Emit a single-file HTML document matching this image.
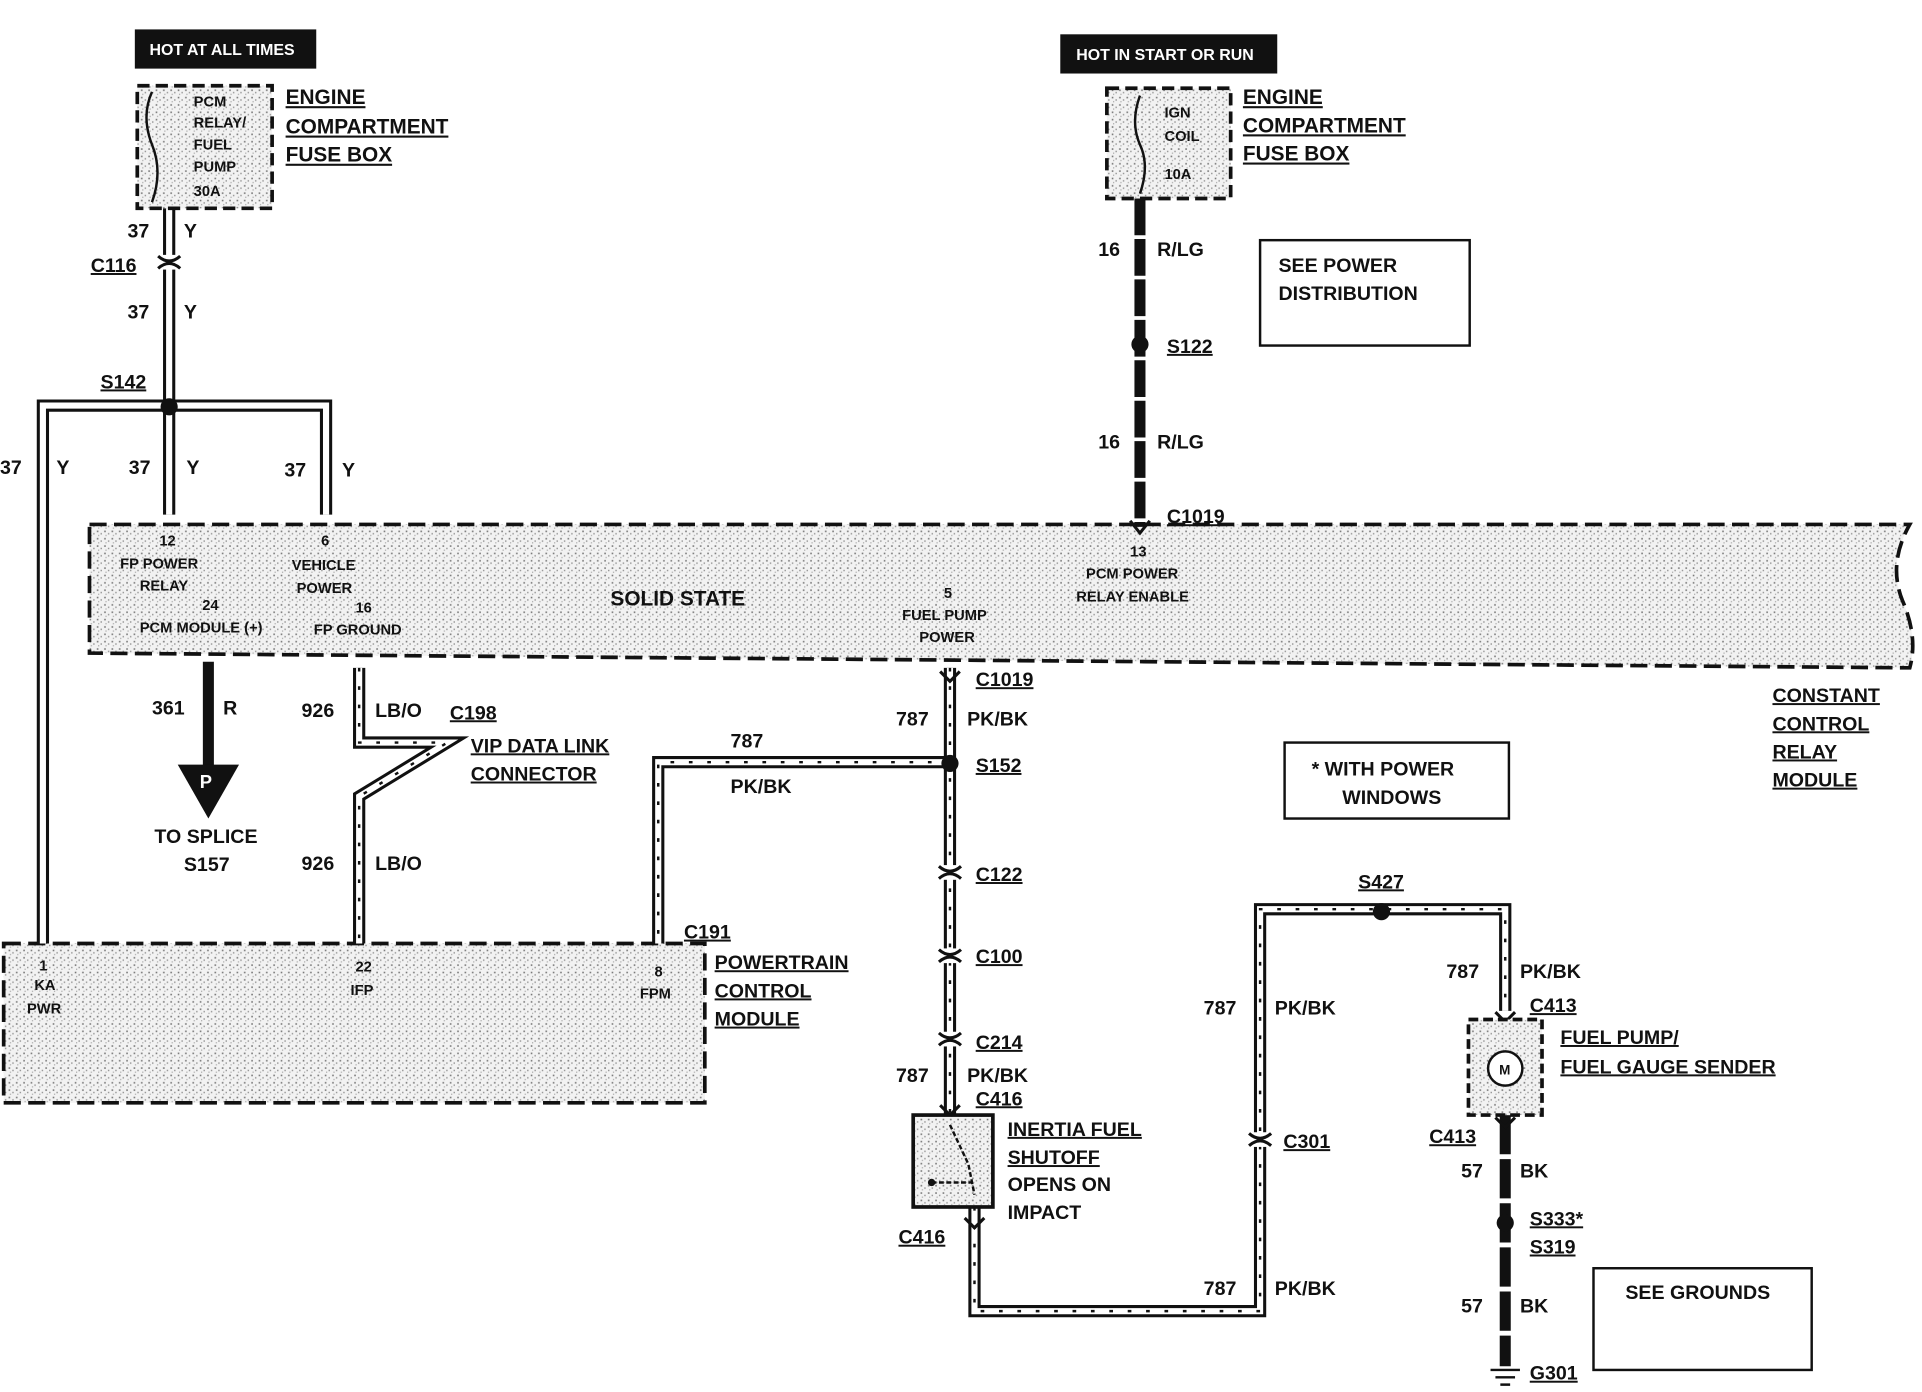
<!DOCTYPE html>
<html><head><meta charset="utf-8"><style>
html,body{margin:0;padding:0;background:#fff;}
svg{display:block;}
text{font-family:"Liberation Sans",sans-serif;font-weight:bold;fill:#111;}
.u{text-decoration:underline;}
</style></head><body>
<svg width="1922" height="1392" viewBox="0 0 1568 1136" preserveAspectRatio="none" xmlns="http://www.w3.org/2000/svg">
<defs>
<pattern id="st" width="6" height="6" patternUnits="userSpaceOnUse">
<rect width="6" height="6" fill="#f2f2f2"/>
<rect x="1" y="1" width="1.3" height="1.3" fill="#777"/>
<rect x="4" y="3" width="1.2" height="1.2" fill="#999"/>
<rect x="2" y="4.5" width="1" height="1" fill="#aaa"/>
</pattern>
<path id="w1" d="M138 170 V420"/>
<path id="w2" d="M138 331 H35 V770"/>
<path id="w3" d="M138 331 H266 V420"/>
<path id="w4" d="M293 545 V606 H365 L293 650 V770"/>
<path id="w5" d="M775 545 V910"/>
<path id="w6" d="M775 622 H537 V770"/>
<path id="w7" d="M795 985 V1070 H1028 V742 H1228 V825"/>
<g id="cx"><path d="M-9 -5 Q0 3 9 -5 M-9 5 Q0 -3 9 5" fill="none" stroke="#111" stroke-width="2.5"/></g>
</defs>

<path d="M73 428 H1558 Q1540 460 1552 490 Q1565 520 1558 545 L73 533 Z" fill="url(#st)" stroke="#111" stroke-width="3" stroke-dasharray="14 6"/>
<rect x="3" y="770" width="572" height="130" fill="url(#st)" stroke="#111" stroke-width="3" stroke-dasharray="14 6"/>

<g fill="none" stroke="#111" stroke-width="10" stroke-linejoin="miter">
<use href="#w1"/><use href="#w2"/><use href="#w3"/><use href="#w4"/><use href="#w5"/><use href="#w6"/><use href="#w7"/>
</g>
<g fill="none" stroke="#fff" stroke-width="5" stroke-linejoin="miter">
<use href="#w1"/><use href="#w2"/><use href="#w3"/><use href="#w4"/><use href="#w5"/><use href="#w6"/><use href="#w7"/>
</g>
<g fill="none" stroke="#111" stroke-width="2" stroke-dasharray="3 12">
<use href="#w4"/><use href="#w5"/><use href="#w6"/><use href="#w7"/>
</g>
<path d="M930 162 V430" stroke="#111" stroke-width="9" stroke-dasharray="30 3"/>
<path d="M1228 910 V1115" stroke="#111" stroke-width="9" stroke-dasharray="32 4"/>
<path d="M170 540 V625" stroke="#111" stroke-width="9"/>
<polygon points="145,624 195,624 170,668" fill="#111"/>
<text x="163" y="643" font-size="15" style="fill:#fff">P</text>

<!-- connector marks -->
<g fill="#fff">
<rect x="130" y="208" width="16" height="12"/><rect x="767" y="706" width="16" height="12"/>
<rect x="767" y="774" width="16" height="12"/><rect x="767" y="842" width="16" height="12"/>
<rect x="1020" y="924" width="16" height="12"/>
</g>
<use href="#cx" x="138" y="214"/><use href="#cx" x="775" y="712"/><use href="#cx" x="775" y="780"/>
<use href="#cx" x="775" y="848"/><use href="#cx" x="1028" y="930"/>
<path d="M767 548 L775 556 L783 548 M767 902 L775 910 L783 902 M787 994 L795 1002 L803 994 M1220 826 L1228 834 L1236 826 M1220 912 L1228 920 L1236 912 M922 425 L930 435 L938 425" fill="none" stroke="#111" stroke-width="2.5"/>

<circle cx="138" cy="332" r="7" fill="#111"/>
<circle cx="930" cy="281" r="7" fill="#111"/>
<circle cx="775" cy="623" r="7" fill="#111"/>
<circle cx="1127" cy="744" r="7" fill="#111"/>
<circle cx="1228" cy="998" r="7" fill="#111"/>

<rect x="110" y="24" width="148" height="32" fill="#111"/>
<text x="122" y="45" font-size="13" style="fill:#fff">HOT AT ALL TIMES</text>
<rect x="865" y="28" width="177" height="32" fill="#111"/>
<text x="878" y="49" font-size="13" style="fill:#fff">HOT IN START OR RUN</text>

<rect x="112" y="70" width="110" height="100" fill="url(#st)" stroke="#111" stroke-width="3" stroke-dasharray="10 5"/>
<path d="M124 75 Q115 95 124 118 Q133 140 124 165" stroke="#111" stroke-width="2" fill="none"/>
<text x="158" y="87" font-size="12">PCM</text><text x="158" y="104" font-size="12">RELAY/</text>
<text x="158" y="122" font-size="12">FUEL</text><text x="158" y="140" font-size="12">PUMP</text><text x="158" y="160" font-size="12">30A</text>
<rect x="903" y="72" width="101" height="90" fill="url(#st)" stroke="#111" stroke-width="3" stroke-dasharray="10 5"/>
<path d="M930 78 Q922 100 930 118 Q938 135 930 158" stroke="#111" stroke-width="2" fill="none"/>
<text x="950" y="96" font-size="12">IGN</text><text x="950" y="115" font-size="12">COIL</text><text x="950" y="146" font-size="12">10A</text>

<g font-size="17">
<text x="233" y="85" class="u">ENGINE</text><text x="233" y="109" class="u">COMPARTMENT</text><text x="233" y="132" class="u">FUSE BOX</text>
<text x="1014" y="85" class="u">ENGINE</text><text x="1014" y="108" class="u">COMPARTMENT</text><text x="1014" y="131" class="u">FUSE BOX</text>
</g>

<rect x="1028" y="196" width="171" height="86" fill="none" stroke="#111" stroke-width="2"/>
<text x="1043" y="222" font-size="16">SEE POWER</text><text x="1043" y="245" font-size="16">DISTRIBUTION</text>
<rect x="1048" y="606" width="183" height="62" fill="none" stroke="#111" stroke-width="2"/>
<text x="1070" y="633" font-size="16">* WITH POWER</text><text x="1095" y="656" font-size="16">WINDOWS</text>
<rect x="1300" y="1035" width="178" height="83" fill="none" stroke="#111" stroke-width="2"/>
<text x="1326" y="1060" font-size="16">SEE GROUNDS</text>

<g font-size="16">
<text x="104" y="194">37</text><text x="150" y="194">Y</text>
<text x="74" y="222" class="u">C116</text>
<text x="104" y="260">37</text><text x="150" y="260">Y</text>
<text x="82" y="317" class="u">S142</text>
<text x="0" y="387">37</text><text x="46" y="387">Y</text>
<text x="105" y="387">37</text><text x="152" y="387">Y</text>
<text x="232" y="389">37</text><text x="279" y="389">Y</text>
<text x="896" y="209">16</text><text x="944" y="209">R/LG</text>
<text x="952" y="288" class="u">S122</text>
<text x="896" y="366">16</text><text x="944" y="366">R/LG</text>
<text x="952" y="427" class="u">C1019</text>
<text x="796" y="560" class="u">C1019</text>
<text x="124" y="583">361</text><text x="182" y="583">R</text>
<text x="246" y="585">926</text><text x="306" y="585">LB/O</text>
<text x="367" y="587" class="u">C198</text>
<text x="384" y="614" class="u">VIP DATA LINK</text><text x="384" y="637" class="u">CONNECTOR</text>
<text x="731" y="592">787</text><text x="789" y="592">PK/BK</text>
<text x="596" y="610">787</text><text x="596" y="647">PK/BK</text>
<text x="796" y="630" class="u">S152</text>
<text x="126" y="688">TO SPLICE</text><text x="150" y="711">S157</text>
<text x="246" y="710">926</text><text x="306" y="710">LB/O</text>
<text x="796" y="719" class="u">C122</text>
<text x="1108" y="725" class="u">S427</text>
<text x="558" y="766" class="u">C191</text>
<text x="583" y="791" class="u">POWERTRAIN</text><text x="583" y="814" class="u">CONTROL</text><text x="583" y="837" class="u">MODULE</text>
<text x="796" y="786" class="u">C100</text>
<text x="1180" y="798">787</text><text x="1240" y="798">PK/BK</text>
<text x="982" y="828">787</text><text x="1040" y="828">PK/BK</text>
<text x="1248" y="826" class="u">C413</text>
<text x="1273" y="852" class="u">FUEL PUMP/</text><text x="1273" y="876" class="u">FUEL GAUGE SENDER</text>
<text x="796" y="856" class="u">C214</text>
<text x="731" y="883">787</text><text x="789" y="883">PK/BK</text>
<text x="796" y="902" class="u">C416</text>
<text x="822" y="927" class="u">INERTIA FUEL</text><text x="822" y="950" class="u">SHUTOFF</text>
<text x="822" y="972" font-weight="normal">OPENS ON</text><text x="822" y="995" font-weight="normal">IMPACT</text>
<text x="1166" y="933" class="u">C413</text>
<text x="1047" y="937" class="u">C301</text>
<text x="1192" y="961">57</text><text x="1240" y="961">BK</text>
<text x="1248" y="1000" class="u">S333*</text><text x="1248" y="1023" class="u">S319</text>
<text x="733" y="1015" class="u">C416</text>
<text x="982" y="1057">787</text><text x="1040" y="1057">PK/BK</text>
<text x="1192" y="1071">57</text><text x="1240" y="1071">BK</text>
<text x="1248" y="1126" class="u">G301</text>
<text x="1446" y="573" class="u">CONSTANT</text><text x="1446" y="596" class="u">CONTROL</text><text x="1446" y="619" class="u">RELAY</text><text x="1446" y="642" class="u">MODULE</text>
</g>

<g font-size="12">
<text x="130" y="445">12</text><text x="98" y="464">FP POWER</text><text x="114" y="482">RELAY</text>
<text x="165" y="498">24</text><text x="114" y="516">PCM MODULE (+)</text>
<text x="262" y="445">6</text><text x="238" y="465">VEHICLE</text><text x="242" y="484">POWER</text>
<text x="290" y="500">16</text><text x="256" y="518">FP GROUND</text>
<text x="770" y="488">5</text><text x="736" y="506">FUEL PUMP</text><text x="750" y="524">POWER</text>
<text x="922" y="454">13</text><text x="886" y="472">PCM POWER</text><text x="878" y="491">RELAY ENABLE</text>
<text x="32" y="792">1</text><text x="28" y="808">KA</text><text x="22" y="827">PWR</text>
<text x="290" y="793">22</text><text x="286" y="812">IFP</text>
<text x="534" y="797">8</text><text x="522" y="815">FPM</text>
</g>
<text x="498" y="494" font-size="17">SOLID STATE</text>

<rect x="745" y="910" width="65" height="75" fill="url(#st)" stroke="#111" stroke-width="3"/>
<path d="M775 918 L790 950 L795 975 M760 965 L792 965" stroke="#111" stroke-width="2" fill="none" stroke-dasharray="4 2"/>
<circle cx="760" cy="965" r="3" fill="#111"/>
<rect x="1198" y="832" width="60" height="78" fill="url(#st)" stroke="#111" stroke-width="3" stroke-dasharray="8 4"/>
<circle cx="1228" cy="872" r="14" fill="#fff" stroke="#111" stroke-width="2"/>
<text x="1223" y="877" font-size="11">M</text>
<path d="M1216 1118 H1240 M1220 1124 H1236 M1224 1130 H1232" stroke="#111" stroke-width="2"/>
</svg>
</body></html>
